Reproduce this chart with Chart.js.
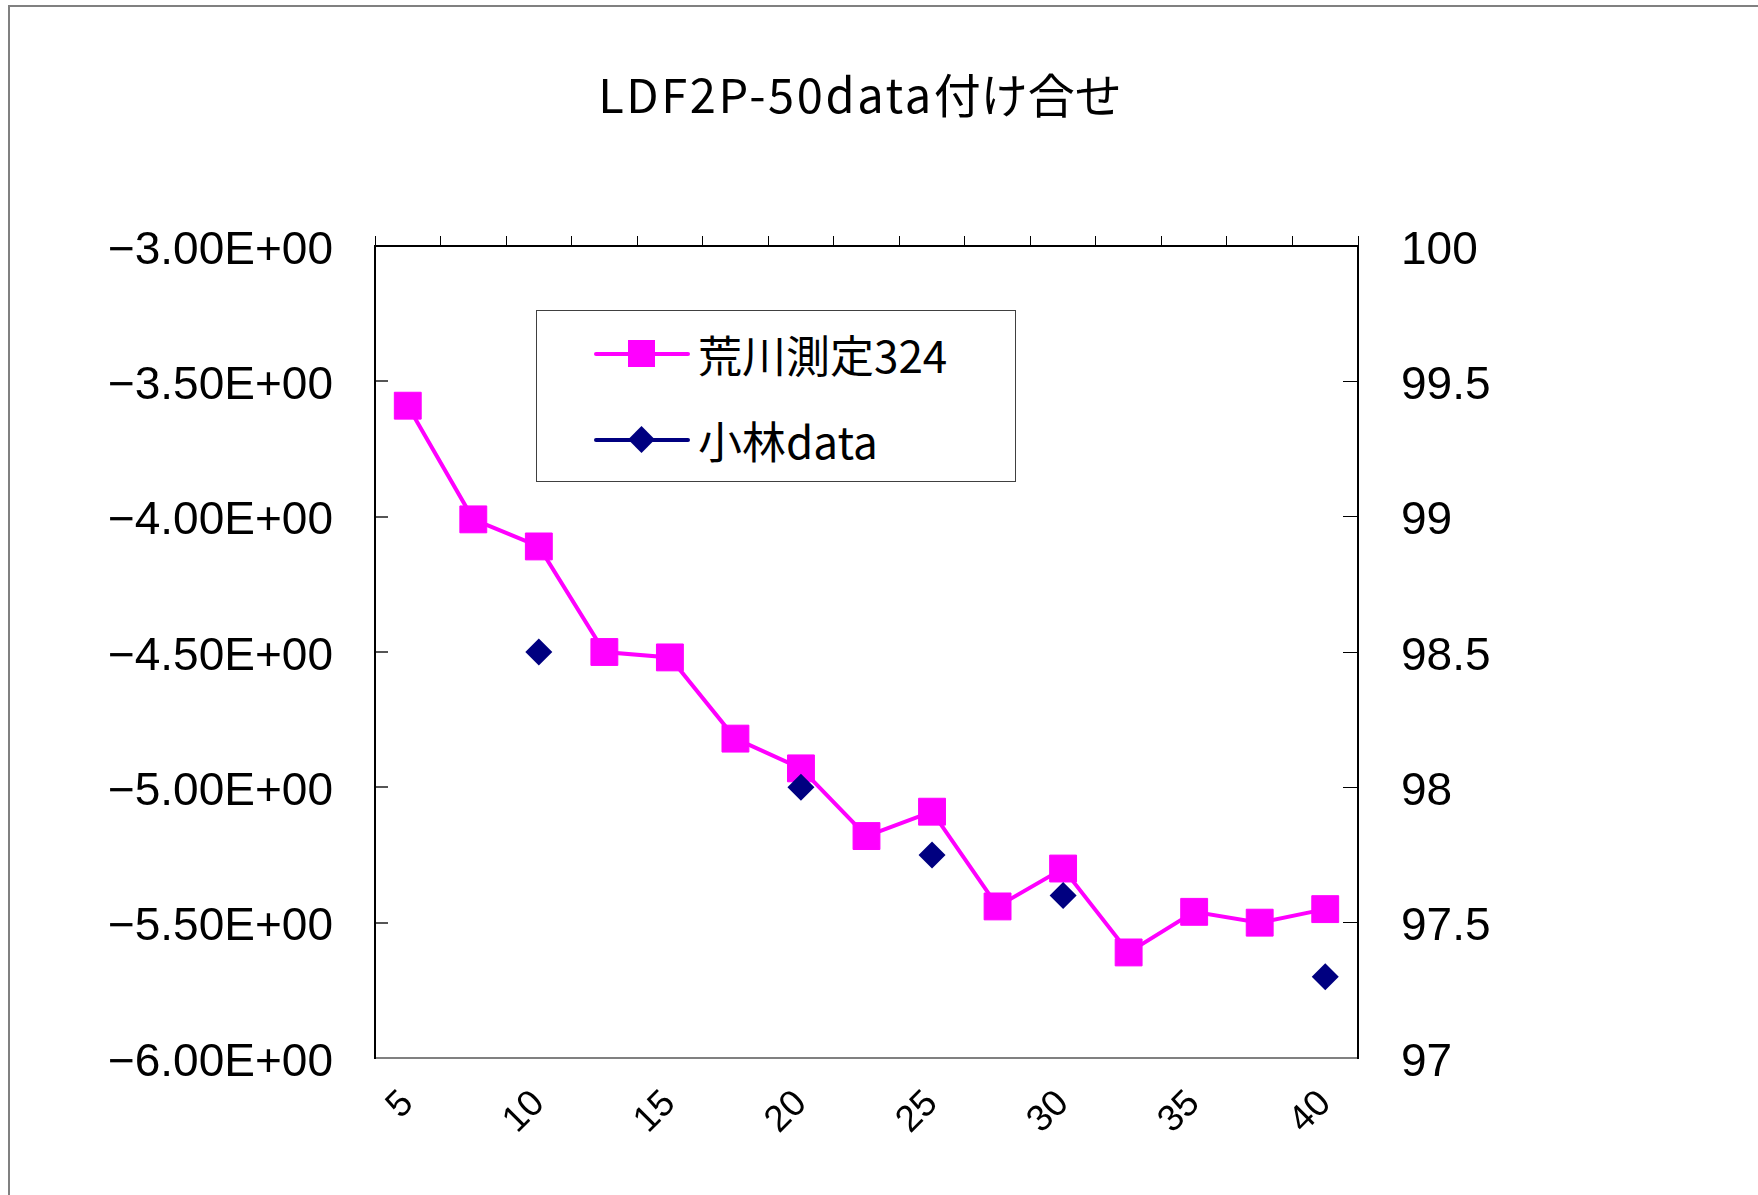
<!DOCTYPE html>
<html>
<head>
<meta charset="utf-8">
<script src="https://cdn.jsdelivr.net/npm/chart.js@4/dist/chart.umd.min.js"></script>
<style>
  html, body { margin: 0; padding: 0; background: #fff; }
  #wrap { position: relative; width: 1758px; height: 1195px; overflow: hidden; }
  #frame { position: absolute; left: 8px; top: 5px; width: 1800px; height: 1300px;
           border-left: 2px solid #808080; border-top: 2px solid #808080; }
  #c { position: absolute; left: 0; top: 0; }
  #title { position: absolute; left: 560px; width: 600px; top: 63px; height: 60px; line-height: 60px;
           text-align: center; font-size: 47px; color: #000; white-space: nowrap;
           font-family: "Noto Sans CJK JP", sans-serif; }
  #title .lat { letter-spacing: 2.6px; }
  #legend { position: absolute; left: 536px; top: 310px; width: 480px; height: 172px;
            border: 1px solid #404040; background: #fff; box-sizing: border-box; }
  .row { position: absolute; left: 0; height: 60px; width: 100%; }
  .row .line { position: absolute; left: 57px; width: 96px; height: 4px; top: 28px; border-radius: 2px; }
  .row .mark { position: absolute; }
  .row .txt { position: absolute; left: 161px; top: 0; line-height: 60px; font-size: 44px;
              font-family: "Noto Sans CJK JP", sans-serif; color: #000; white-space: nowrap; }
</style>
</head>
<body>
<div id="wrap">
  <div id="frame"></div>
  <canvas id="c" width="1758" height="1195"></canvas>
  <div id="title"></div>
  <div id="legend">
    <div class="row" style="top:13px">
      <div class="line" style="background:#FF00FF"></div>
      <div class="mark" style="left:91px;top:16px;width:27px;height:27px;background:#FF00FF"></div>
      <div class="txt" id="lg0"></div>
    </div>
    <div class="row" style="top:99px">
      <div class="line" style="background:#000080"></div>
      <div class="mark" style="left:95px;top:20px;width:19px;height:19px;background:#000080;transform:rotate(45deg)"></div>
      <div class="txt" id="lg1"></div>
    </div>
  </div>
</div>
<script>
// x categories (depth steps)
const categories = ['5', '7.5', '10', '12.5', '15', '17.5', '20', '22.5', '25', '27.5', '30', '32.5', '35', '37.5', '40'];
// 荒川測定324
const arakawa = [-3.59, -4.01, -4.11, -4.50, -4.52, -4.82, -4.93, -5.18, -5.09, -5.44, -5.30, -5.61, -5.46, -5.50, -5.45];
// 小林data (measured only at some steps)
const kobayashi = [null, null, -4.50, null, null, null, -5.00, null, -5.25, null, -5.40, null, null, null, -5.70];
// series names and axis ranges
const seriesNames = ['荒川測定324', '小林data'];
const leftRange = [-6, -3];
const rightRange = [97, 100];
const titleText = 'LDF2P-50data付け合せ';

// title: half-width Latin runs get a little extra spacing
const titleEl = document.getElementById('title');
titleText.match(/[\x20-\x7e]+|[^\x20-\x7e]+/g).forEach(part => {
  const span = document.createElement('span');
  if (/^[\x20-\x7e]+$/.test(part)) span.className = 'lat';
  span.textContent = part;
  titleEl.appendChild(span);
});
document.getElementById('lg0').textContent = seriesNames[0];
document.getElementById('lg1').textContent = seriesNames[1];

function sciLabel(v) {
  const s = Math.abs(v).toExponential(2).toUpperCase();
  const parts = s.split('E');
  const exp = parts[1];
  const sign = exp[0];
  const digits = exp.slice(1).padStart(2, '0');
  return (v < 0 ? '\u2212' : '') + parts[0] + 'E' + sign + digits;
}

const numFont = { family: '"Liberation Sans", Arial, sans-serif', size: 46 };

new Chart(document.getElementById('c'), {
  type: 'line',
  data: {
    labels: categories,
    datasets: [
      {
        label: seriesNames[1],
        data: kobayashi,
        borderColor: '#000080',
        backgroundColor: '#000080',
        borderWidth: 4,
        pointStyle: 'rectRot',
        pointRadius: 13.5,
        pointBorderWidth: 0,
        spanGaps: false,
        yAxisID: 'y',
        xAxisID: 'x',
        order: 0
      },
      {
        label: seriesNames[0],
        data: arakawa,
        borderColor: '#FF00FF',
        backgroundColor: '#FF00FF',
        borderWidth: 4,
        pointStyle: 'rect',
        pointRadius: 19,
        pointBorderWidth: 1,
        tension: 0,
        yAxisID: 'y',
        xAxisID: 'x',
        order: 1
      }
    ]
  },
  options: {
    responsive: false,
    animation: false,
    events: [],
    layout: { padding: 0 },
    plugins: {
      legend: { display: false },
      tooltip: { enabled: false },
      title: { display: false }
    },
    scales: {
      x: {
        type: 'category',
        position: 'bottom',
        offset: true,
        border: { display: true, color: '#808080', width: 2 },
        grid: { display: true, drawOnChartArea: false, drawTicks: false },
        ticks: {
          autoSkip: false,
          minRotation: 45,
          maxRotation: 45,
          padding: 24,
          labelOffset: 0,
          color: '#000',
          font: { family: '"Liberation Sans", Arial, sans-serif', size: 37 },
          callback: function (v) {
            const l = this.getLabelForValue(v);
            return Number(l) % 5 === 0 ? l : '';
          }
        },
        afterFit: s => { s.height = 137; }
      },
      x2: {
        type: 'category',
        position: 'top',
        labels: categories,
        offset: true,
        border: { display: true, color: '#000', width: 2 },
        grid: { display: true, offset: true, drawOnChartArea: false, drawTicks: true, tickLength: 10, color: '#000', lineWidth: 1 },
        ticks: { display: false },
        afterFit: s => { s.height = 246; }
      },
      y: {
        position: 'left',
        min: leftRange[0],
        max: leftRange[1],
        border: { display: true, color: '#000', width: 2 },
        grid: { display: true, drawOnChartArea: false, drawTicks: true, tickLength: -13, color: '#555', lineWidth: 2 },
        ticks: {
          stepSize: 0.5,
          padding: 55,
          labelOffset: 5,
          color: '#000',
          font: numFont,
          callback: v => sciLabel(v)
        },
        afterFit: s => { s.width = 375; }
      },
      y2: {
        position: 'right',
        min: rightRange[0],
        max: rightRange[1],
        border: { display: true, color: '#000', width: 2 },
        grid: { display: true, drawOnChartArea: false, drawTicks: true, tickLength: -15, color: '#000', lineWidth: 1 },
        ticks: {
          stepSize: 0.5,
          padding: 58,
          labelOffset: 5,
          color: '#000',
          font: numFont,
          callback: v => String(Math.round(v * 10) / 10)
        },
        afterFit: s => { s.width = 1758 - 1358; }
      }
    }
  }
});
</script>
</body>
</html>
